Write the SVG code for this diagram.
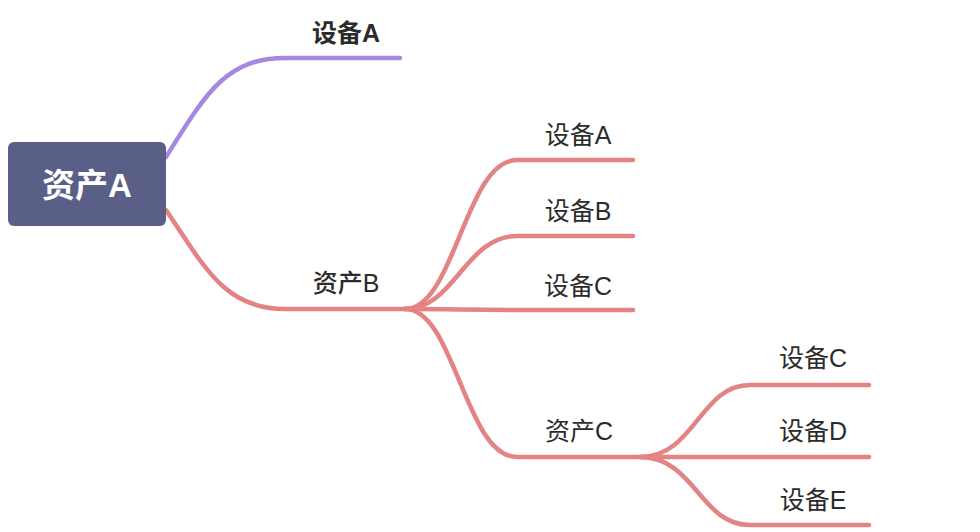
<svg xmlns="http://www.w3.org/2000/svg" width="980" height="532" viewBox="0 0 980 532">
<style>
.ln{fill:none;stroke-width:4.5;stroke-linecap:round}
.red{stroke:#e38383}
.pur{stroke:#a689de}
.lbl{font-family:"Liberation Sans","Noto Sans CJK SC",sans-serif;font-size:25px;fill:#2b2b2b;text-anchor:middle}
.b{font-weight:bold}
.m{font-weight:500}
.root{font-family:"Liberation Sans","Noto Sans CJK SC",sans-serif;font-size:33px;font-weight:bold;fill:#ffffff;text-anchor:middle}
</style>
<rect width="980" height="532" fill="#ffffff"/>
<g id="connectors">
<path class="ln pur" d="M166,157 C205,95 225,58 285,58 H400"/>
<path class="ln red" d="M166,210 C205,268 225,309 285,309 H405"/>
<path class="ln red" d="M405,309 C455,309 465,160 517,160 H633"/>
<path class="ln red" d="M405,309 C455,309 465,236 517,236 H633"/>
<path class="ln red" d="M405,309 C455,309 465,310 517,310 H633"/>
<path class="ln red" d="M405,309 C455,309 465,457 517,457 H640"/>
<path class="ln red" d="M640,457 C695,457 700,385 750,385 H869"/>
<path class="ln red" d="M640,457 C695,457 700,457 750,457 H869"/>
<path class="ln red" d="M640,457 C695,457 700,525 750,525 H869"/>
</g>
<g id="root">
<rect x="8" y="142" width="158" height="84" rx="6" fill="#5a5f87"/>
<text class="root" x="87" y="197">资产A</text>
</g>
<g id="n-devA-top"><text class="lbl b" x="346" y="42">设备A</text></g>
<g id="n-assetB"><text class="lbl m" x="346" y="292">资产B</text></g>
<g id="n-devA"><text class="lbl" x="578" y="144">设备A</text></g>
<g id="n-devB"><text class="lbl" x="578" y="220">设备B</text></g>
<g id="n-devC"><text class="lbl" x="578" y="295">设备C</text></g>
<g id="n-assetC"><text class="lbl" x="579" y="440">资产C</text></g>
<g id="n-devC2"><text class="lbl" x="813" y="367">设备C</text></g>
<g id="n-devD"><text class="lbl" x="813" y="440">设备D</text></g>
<g id="n-devE"><text class="lbl" x="813" y="509">设备E</text></g>
</svg>
